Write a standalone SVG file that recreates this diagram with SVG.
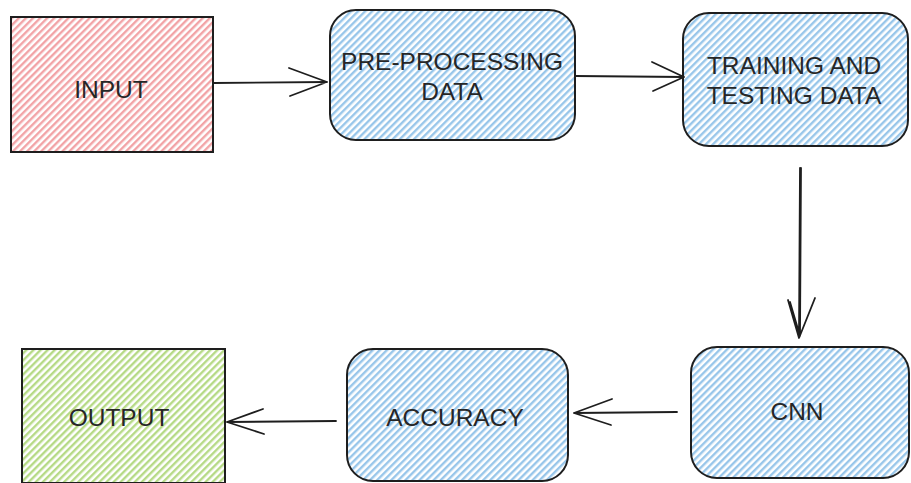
<svg xmlns="http://www.w3.org/2000/svg" width="911" height="483" viewBox="0 0 911 483">
<defs>
<pattern id="hPink" patternUnits="userSpaceOnUse" width="5" height="5" patternTransform="rotate(45)">
<rect width="5" height="5" fill="#ffffff"/><rect width="2.4" height="5" fill="#f2a3a6"/>
</pattern>
<pattern id="hBlue" patternUnits="userSpaceOnUse" width="5" height="5" patternTransform="rotate(45)">
<rect width="5" height="5" fill="#ffffff"/><rect width="2.4" height="5" fill="#98c6ea"/>
</pattern>
<pattern id="hGreen" patternUnits="userSpaceOnUse" width="5" height="5" patternTransform="rotate(45)">
<rect width="5" height="5" fill="#ffffff"/><rect width="2.4" height="5" fill="#b6da86"/>
</pattern>
</defs>
<style>
.box{stroke:#1e1e1e;stroke-width:2}
.lbl{font-family:"Liberation Sans",Arial,sans-serif;font-size:24.5px;fill:#262626;text-anchor:middle}
.edge{fill:none;stroke:#1e1e1e;stroke-width:1.8;stroke-linecap:round;stroke-linejoin:round}
</style>
<rect width="911" height="483" fill="#ffffff"/>
<g id="input">
<rect class="box" x="11" y="17" width="202" height="135" fill="url(#hPink)"/>
<text class="lbl" x="111" y="98">INPUT</text>
</g>
<g id="preprocessing">
<rect class="box" x="330" y="10" width="245" height="130" rx="26" fill="url(#hBlue)"/>
<text class="lbl" x="452" y="70">PRE-PROCESSING</text>
<text class="lbl" x="452" y="100">DATA</text>
</g>
<g id="training">
<rect class="box" x="683" y="13" width="225" height="133" rx="26" fill="url(#hBlue)"/>
<text class="lbl" x="794" y="74">TRAINING AND</text>
<text class="lbl" x="794" y="104">TESTING DATA</text>
</g>
<g id="cnn">
<rect class="box" x="691" y="347" width="218" height="131" rx="26" fill="url(#hBlue)"/>
<text class="lbl" x="797" y="420">CNN</text>
</g>
<g id="accuracy">
<rect class="box" x="347" y="349" width="221" height="132" rx="26" fill="url(#hBlue)"/>
<text class="lbl" x="455" y="426">ACCURACY</text>
</g>
<g id="output">
<rect class="box" x="22" y="349" width="203" height="134" fill="url(#hGreen)"/>
<text class="lbl" x="119" y="426">OUTPUT</text>
</g>
<g id="connectors">
<path class="edge" d="M213 83 L327 82 M289 68 L327 82 L290 96"/>
<path class="edge" d="M575 76 L684 77 M652 62 L684 77 L653 91"/>
<path class="edge" d="M800 168 L799 337 M801 168 L800 336 M788 300 L799 338 L815 298 M790 302 L800 336"/>
<path class="edge" d="M677 412 L574 413 M612 399 L574 413 L611 425"/>
<path class="edge" d="M336 421 L227 422 M263 409 L227 422 L264 434"/>
</g>
</svg>
